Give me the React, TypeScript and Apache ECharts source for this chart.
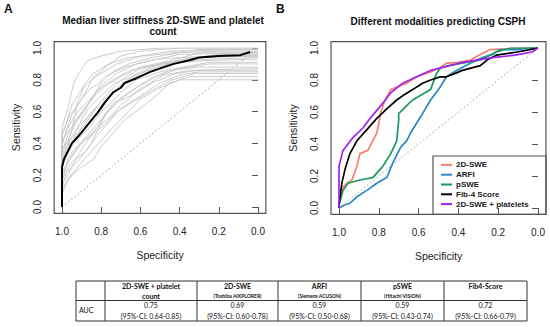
import React, { useEffect, useRef } from "react";
import * as echarts from "echarts";

// ---------- Data ----------
const chanceLine = [[1, 0], [0, 1]];

// Panel A: mean ROC curve of 2D-SWE + platelet count (specificity, sensitivity)
const meanCurveA = [
  [1, 0], [1, 0.25], [0.99, 0.3], [0.97, 0.35], [0.95, 0.4], [0.92, 0.44], [0.9, 0.47],
  [0.86, 0.53], [0.82, 0.59], [0.78, 0.66], [0.74, 0.72], [0.7, 0.75], [0.68, 0.78],
  [0.62, 0.81], [0.55, 0.85], [0.48, 0.88], [0.43, 0.9], [0.36, 0.92], [0.3, 0.94],
  [0.2, 0.95], [0.09, 0.955], [0.04, 0.975],
];

// Panel A: bootstrap ROC curves (grey)
const bootstrapCurvesA = [
  [[1, 0], [1, 0.45], [0.97, 0.55], [0.96, 0.58], [0.93, 0.62], [0.9, 0.68], [0.88, 0.72], [0.84, 0.82], [0.8, 0.85], [0.78, 0.88], [0.7, 0.95], [0.6, 0.98], [0.4, 1], [0, 1]],
  [[1, 0], [1, 0.3], [0.96, 0.4], [0.93, 0.43], [0.9, 0.5], [0.85, 0.6], [0.8, 0.66], [0.76, 0.7], [0.72, 0.75], [0.62, 0.84], [0.5, 0.9], [0.35, 0.93], [0.2, 0.95], [0, 0.95]],
  [[1, 0], [1, 0.15], [0.97, 0.2], [0.93, 0.3], [0.88, 0.35], [0.85, 0.4], [0.82, 0.45], [0.75, 0.55], [0.7, 0.62], [0.6, 0.7], [0.5, 0.78], [0.4, 0.83], [0.3, 0.85], [0, 0.85]],
  [[1, 0], [1, 0.38], [0.98, 0.48], [0.95, 0.58], [0.9, 0.68], [0.85, 0.75], [0.82, 0.77], [0.78, 0.82], [0.68, 0.88], [0.55, 0.92], [0.4, 0.96], [0, 0.97]],
  [[1, 0], [1, 0.2], [0.96, 0.3], [0.92, 0.38], [0.87, 0.45], [0.8, 0.55], [0.74, 0.65], [0.66, 0.72], [0.56, 0.8], [0.45, 0.86], [0.3, 0.88], [0, 0.88]],
  [[1, 0], [1, 0.25], [0.97, 0.35], [0.93, 0.45], [0.88, 0.52], [0.83, 0.62], [0.76, 0.72], [0.7, 0.8], [0.6, 0.87], [0.48, 0.9], [0.3, 0.92], [0, 0.93]],
  [[1, 0], [1, 0.1], [0.97, 0.18], [0.94, 0.22], [0.9, 0.28], [0.85, 0.35], [0.8, 0.42], [0.74, 0.5], [0.66, 0.6], [0.6, 0.68], [0.5, 0.75], [0.4, 0.8], [0, 0.8]],
  [[1, 0], [1, 0.5], [0.97, 0.62], [0.94, 0.78], [0.91, 0.85], [0.87, 0.92], [0.8, 0.95], [0.7, 0.98], [0.5, 1], [0, 1]],
  [[1, 0], [1, 0.32], [0.98, 0.4], [0.94, 0.44], [0.9, 0.55], [0.86, 0.63], [0.8, 0.7], [0.73, 0.78], [0.64, 0.82], [0.54, 0.87], [0.42, 0.91], [0.25, 0.93], [0, 0.94]],
  [[1, 0], [1, 0.22], [0.97, 0.28], [0.93, 0.35], [0.89, 0.42], [0.83, 0.48], [0.78, 0.58], [0.7, 0.68], [0.62, 0.75], [0.52, 0.82], [0.4, 0.87], [0.25, 0.9], [0, 0.9]],
  [[1, 0], [1, 0.4], [0.96, 0.52], [0.92, 0.6], [0.87, 0.66], [0.82, 0.73], [0.74, 0.8], [0.65, 0.86], [0.5, 0.9], [0.38, 0.93], [0.2, 0.96], [0, 0.96]],
  [[1, 0], [1, 0.12], [0.97, 0.25], [0.92, 0.32], [0.88, 0.4], [0.84, 0.46], [0.78, 0.52], [0.72, 0.6], [0.64, 0.66], [0.56, 0.72], [0.44, 0.8], [0.32, 0.84], [0, 0.84]],
  [[1, 0], [1, 0.28], [0.96, 0.42], [0.92, 0.5], [0.86, 0.58], [0.8, 0.64], [0.75, 0.7], [0.68, 0.78], [0.58, 0.85], [0.46, 0.9], [0.3, 0.94], [0, 0.95]],
  [[1, 0], [1, 0.35], [0.97, 0.45], [0.93, 0.55], [0.89, 0.6], [0.84, 0.7], [0.8, 0.78], [0.74, 0.85], [0.66, 0.9], [0.54, 0.94], [0.4, 0.97], [0.2, 0.98], [0, 0.98]],
  [[1, 0], [1, 0.18], [0.96, 0.24], [0.91, 0.3], [0.86, 0.38], [0.81, 0.5], [0.77, 0.6], [0.72, 0.66], [0.65, 0.7], [0.58, 0.76], [0.48, 0.83], [0.35, 0.86], [0, 0.87]],
  [[1, 0], [1, 0.42], [0.95, 0.5], [0.9, 0.58], [0.85, 0.68], [0.8, 0.76], [0.72, 0.84], [0.62, 0.9], [0.52, 0.93], [0.4, 0.94], [0.2, 0.95], [0, 0.95]],
  [[1, 0], [1, 0.3], [0.95, 0.48], [0.92, 0.66], [0.89, 0.75], [0.85, 0.8], [0.8, 0.84], [0.72, 0.9], [0.6, 0.95], [0.45, 0.98], [0, 0.99]],
  [[1, 0], [1, 0.08], [0.98, 0.14], [0.95, 0.2], [0.9, 0.25], [0.84, 0.3], [0.8, 0.38], [0.75, 0.45], [0.68, 0.55], [0.6, 0.62], [0.52, 0.7], [0.45, 0.78], [0.35, 0.82], [0, 0.82]],
  [[1, 0], [1, 0.36], [0.97, 0.42], [0.94, 0.5], [0.9, 0.6], [0.87, 0.64], [0.83, 0.7], [0.78, 0.76], [0.7, 0.82], [0.6, 0.88], [0.45, 0.92], [0.3, 0.97], [0, 0.97]],
  [[1, 0], [1, 0.26], [0.98, 0.32], [0.95, 0.38], [0.9, 0.45], [0.86, 0.5], [0.8, 0.6], [0.76, 0.64], [0.7, 0.72], [0.62, 0.8], [0.5, 0.85], [0.38, 0.88], [0.25, 0.91], [0, 0.91]],
  [[1, 0], [1, 0.46], [0.98, 0.52], [0.95, 0.64], [0.92, 0.7], [0.88, 0.78], [0.84, 0.84], [0.76, 0.9], [0.66, 0.94], [0.5, 0.96], [0.3, 0.99], [0, 0.99]],
  [[1, 0], [1, 0.16], [0.97, 0.3], [0.94, 0.36], [0.9, 0.4], [0.86, 0.44], [0.82, 0.5], [0.76, 0.56], [0.7, 0.64], [0.62, 0.72], [0.54, 0.78], [0.42, 0.84], [0.3, 0.86], [0, 0.86]],
];

// Panel B: modalities (specificity, sensitivity)
const curveSWE = [
  [1, 0], [1, 0.02], [0.98, 0.13], [0.955, 0.16], [0.935, 0.175], [0.91, 0.26], [0.895, 0.34],
  [0.855, 0.36], [0.83, 0.42], [0.81, 0.47], [0.8, 0.53], [0.79, 0.6], [0.77, 0.67], [0.74, 0.74],
  [0.7, 0.76], [0.66, 0.78], [0.61, 0.82], [0.54, 0.85], [0.49, 0.88], [0.46, 0.905], [0.4, 0.91],
  [0.34, 0.925], [0.29, 0.96], [0.24, 0.99], [0.15, 0.995], [0.075, 1], [0, 1],
];
const curveARFI = [
  [1, 0], [0.97, 0.02], [0.945, 0.03], [0.91, 0.07], [0.86, 0.11], [0.81, 0.155], [0.76, 0.19],
  [0.73, 0.28], [0.69, 0.38], [0.66, 0.42], [0.64, 0.47], [0.6, 0.55], [0.58, 0.59], [0.54, 0.675],
  [0.5, 0.74], [0.48, 0.78], [0.46, 0.82], [0.41, 0.86], [0.34, 0.905], [0.28, 0.94], [0.23, 0.96],
  [0.19, 0.99], [0.105, 0.99], [0.04, 1], [0, 1],
];
const curvePSWE = [
  [1, 0], [1, 0.02], [0.98, 0.11], [0.955, 0.155], [0.895, 0.175], [0.83, 0.19], [0.78, 0.26],
  [0.74, 0.34], [0.71, 0.42], [0.7, 0.55], [0.7, 0.59], [0.66, 0.64], [0.63, 0.675], [0.54, 0.74],
  [0.51, 0.84], [0.49, 0.875], [0.45, 0.89], [0.38, 0.905], [0.29, 0.925], [0.21, 0.975],
  [0.14, 1], [0.09, 1], [0, 1],
];
const curveFib4 = [
  [1, 0], [1, 0.02], [0.985, 0.16], [0.97, 0.24], [0.945, 0.34], [0.91, 0.42], [0.86, 0.49],
  [0.81, 0.56], [0.76, 0.62], [0.71, 0.675], [0.67, 0.71], [0.63, 0.74], [0.58, 0.78], [0.54, 0.8],
  [0.49, 0.82], [0.46, 0.82], [0.42, 0.84], [0.38, 0.86], [0.29, 0.89], [0.25, 0.93], [0.21, 0.955],
  [0.105, 0.975], [0.04, 0.99], [0, 1],
];
const curveCombined = [
  [1, 0], [1, 0.26], [0.98, 0.36], [0.93, 0.44], [0.88, 0.5], [0.85, 0.55], [0.81, 0.61],
  [0.77, 0.67], [0.74, 0.72], [0.68, 0.78], [0.61, 0.82], [0.54, 0.86], [0.49, 0.875],
  [0.38, 0.91], [0.23, 0.94], [0.115, 0.955], [0.03, 0.975], [0, 1],
];

const modalityNames = ["2D-SWE", "ARFI", "pSWE", "Fib-4 Score", "2D-SWE + platelets"];
const modalityColors = ["#f8806e", "#2b88c8", "#1a9a5c", "#000000", "#a21ff0"];
const modalityCurves = [curveSWE, curveARFI, curvePSWE, curveFib4, curveCombined];

// Table
const tableHeaders = ["2D-SWE + platelet", "2D-SWE", "ARFI", "pSWE", "Fib4-Score"];
const tableHeaderLine2 = ["count", "", "", "", ""];
const tableDevices = ["", "(Toshiba AIXPLORER)", "(Siemens ACUSON)", "(Hitachi VISION)", ""];
const aucValues = ["0.75", "0.69", "0.59", "0.59", "0.72"];
const aucCI = [
  "(95%-CI: 0.64-0.85)",
  "(95%-CI: 0.60-0.78)",
  "(95%-CI: 0.50-0.68)",
  "(95%-CI: 0.43-0.74)",
  "(95%-CI: 0.66-0.79)",
];

// ---------- Layout ----------
const FONT = "'Liberation Sans', Arial, sans-serif";
const TFONT = "Lato, 'Open Sans', sans-serif";
const gridA = { left: 62, top: 48, width: 196, height: 159 };
const gridB = { left: 339, top: 48, width: 199, height: 160 };
const AXIS_COLOR = "#555";

function boxOf(g: { left: number; top: number; width: number; height: number }) {
  const dx = g.width * 0.04;
  const dy = g.height * 0.04;
  return { x: g.left - dx, y: g.top - dy, width: g.width + 2 * dx, height: g.height + 2 * dy };
}

function axesFor(gi: number, g: { width: number; height: number }) {
  const offX = Math.round(g.height * 0.04);
  const offY = Math.round(g.width * 0.04);
  const common = {
    gridIndex: gi,
    type: "value" as const,
    min: 0,
    max: 1,
    interval: 0.2,
    axisLine: { show: false },
    axisTick: { show: true, length: 6, lineStyle: { color: AXIS_COLOR, width: 1 } },
    splitLine: { show: false },
    nameLocation: "middle" as const,
    nameTextStyle: { fontFamily: FONT, fontSize: 10.5, color: "#222" },
  };
  const x = {
    ...common,
    inverse: true,
    offset: offX,
    name: "Specificity",
    nameGap: 36,
    axisLabel: { fontFamily: FONT, fontSize: 10, color: "#222", margin: 13, formatter: (v: number) => v.toFixed(1) },
  };
  const y = {
    ...common,
    offset: offY,
    name: "Sensitivity",
    nameGap: 33,
    axisLabel: { fontFamily: FONT, fontSize: 10, color: "#222", margin: 12, rotate: 90, formatter: (v: number) => v.toFixed(1) },
  };
  return { x, y };
}

export default function App() {
  const ref = useRef<HTMLDivElement>(null);
  useEffect(() => {
    if (!ref.current) return;
    const chart = echarts.init(ref.current, undefined, { renderer: "svg" });
    const aAxes = axesFor(0, gridA);
    const bAxes = axesFor(1, gridB);
    const boxA = boxOf(gridA);
    const boxB = boxOf(gridB);

    const series: any[] = [];
    // Panel A
    series.push({
      type: "line", xAxisIndex: 0, yAxisIndex: 0, data: chanceLine, symbol: "none", silent: true,
      lineStyle: { color: "#9a9a9a", width: 1, type: [1.5, 2.5] }, z: 1,
    });
    bootstrapCurvesA.forEach((c, i) => {
      series.push({
        type: "line", xAxisIndex: 0, yAxisIndex: 0, data: c, symbol: "none", silent: true,
        name: "boot" + i,
        lineStyle: { color: "#c6c6c6", width: 0.9 }, z: 2,
      });
    });
    series.push({
      type: "line", xAxisIndex: 0, yAxisIndex: 0, data: meanCurveA, symbol: "none", silent: true,
      name: "mean", lineStyle: { color: "#000", width: 2 }, z: 3,
    });
    // Panel B
    series.push({
      type: "line", xAxisIndex: 1, yAxisIndex: 1, data: chanceLine, symbol: "none", silent: true,
      lineStyle: { color: "#9a9a9a", width: 1, type: [1.5, 2.5] }, z: 1,
    });
    modalityCurves.forEach((c, i) => {
      series.push({
        type: "line", xAxisIndex: 1, yAxisIndex: 1, data: c, symbol: "none", silent: true,
        name: modalityNames[i], color: modalityColors[i],
        lineStyle: { color: modalityColors[i], width: 1.7 }, z: 3,
      });
    });

    const colEdges = [76, 105, 197, 278, 361, 444, 527];
    const rowY = [281, 300.5, 321];
    const tableEls: any[] = [];
    const lineStyle = { stroke: "#333", lineWidth: 1 };
    rowY.forEach((y) => {
      tableEls.push({ type: "line", shape: { x1: colEdges[0], y1: y, x2: colEdges[6], y2: y }, style: lineStyle });
    });
    colEdges.forEach((x) => {
      tableEls.push({ type: "line", shape: { x1: x, y1: rowY[0], x2: x, y2: rowY[2] }, style: lineStyle });
    });
    tableHeaders.forEach((h, i) => {
      const cx = (colEdges[i + 1] + colEdges[i + 2]) / 2;
      tableEls.push({ type: "text", x: cx, y: 286, style: { text: h, font: `bold 7px ${TFONT}`, fill: "#111", align: "center", verticalAlign: "middle" } });
      if (tableHeaderLine2[i]) {
        tableEls.push({ type: "text", x: cx, y: 295.5, style: { text: tableHeaderLine2[i], font: `bold 7px ${TFONT}`, fill: "#111", align: "center", verticalAlign: "middle" } });
      }
      if (tableDevices[i]) {
        tableEls.push({ type: "text", x: cx, y: 295.5, style: { text: tableDevices[i], font: `bold 5px ${TFONT}`, fill: "#111", align: "center", verticalAlign: "middle" } });
      }
      tableEls.push({ type: "text", x: cx, y: 305, style: { text: aucValues[i], font: `7px ${TFONT}`, fill: "#111", align: "center", verticalAlign: "middle" } });
      tableEls.push({ type: "text", x: cx, y: 315.5, style: { text: aucCI[i], font: `7px ${TFONT}`, fill: "#111", align: "center", verticalAlign: "middle" } });
    });
    tableEls.push({ type: "text", x: 79, y: 310, style: { text: "AUC", font: `7px ${TFONT}`, fill: "#111", align: "left", verticalAlign: "middle" } });

    const option: any = {
      animation: false,
      backgroundColor: "#fff",
      grid: [
        { left: gridA.left, top: gridA.top, width: gridA.width, height: gridA.height },
        { left: gridB.left, top: gridB.top, width: gridB.width, height: gridB.height },
      ],
      xAxis: [aAxes.x, bAxes.x],
      yAxis: [aAxes.y, bAxes.y],
      legend: {
        data: modalityNames,
        left: 441,
        top: 160,
        orient: "vertical",
        icon: "rect",
        itemWidth: 11,
        itemHeight: 2,
        itemGap: 0,
        selectedMode: false,
        padding: 0,
        textStyle: { fontFamily: FONT, fontSize: 8, fontWeight: "bold", color: "#222", lineHeight: 9.8, padding: [0, 0, 0, -1] },
      },
      series,
      graphic: [
        { type: "rect", shape: boxA, style: { fill: "none", stroke: AXIS_COLOR, lineWidth: 1.2 }, z: 10 },
        { type: "rect", shape: boxB, style: { fill: "none", stroke: AXIS_COLOR, lineWidth: 1.2 }, z: 10 },
        {
          type: "rect",
          shape: { x: 433, y: 156, width: boxB.x + boxB.width - 433, height: boxB.y + boxB.height - 156 },
          style: { fill: "none", stroke: AXIS_COLOR, lineWidth: 1.2 }, z: 10,
        },
        { type: "text", x: 4, y: 9, style: { text: "A", font: `bold 12px ${FONT}`, fill: "#111", verticalAlign: "middle" } },
        { type: "text", x: 276, y: 9, style: { text: "B", font: `bold 12px ${FONT}`, fill: "#111", verticalAlign: "middle" } },
        { type: "text", x: 163, y: 20, style: { text: "Median liver stiffness 2D-SWE and platelet", font: `bold 10px ${FONT}`, fill: "#111", align: "center", verticalAlign: "middle" } },
        { type: "text", x: 163, y: 31, style: { text: "count", font: `bold 10px ${FONT}`, fill: "#111", align: "center", verticalAlign: "middle" } },
        { type: "text", x: 438, y: 21, style: { text: "Different modalities predicting CSPH", font: `bold 10px ${FONT}`, fill: "#111", align: "center", verticalAlign: "middle" } },
        ...tableEls,
      ],
    };
    chart.setOption(option);
    return () => chart.dispose();
  }, []);
  return <div ref={ref} style={{ width: 550, height: 327, position: "absolute", left: 0, top: 0 }} />;
}
